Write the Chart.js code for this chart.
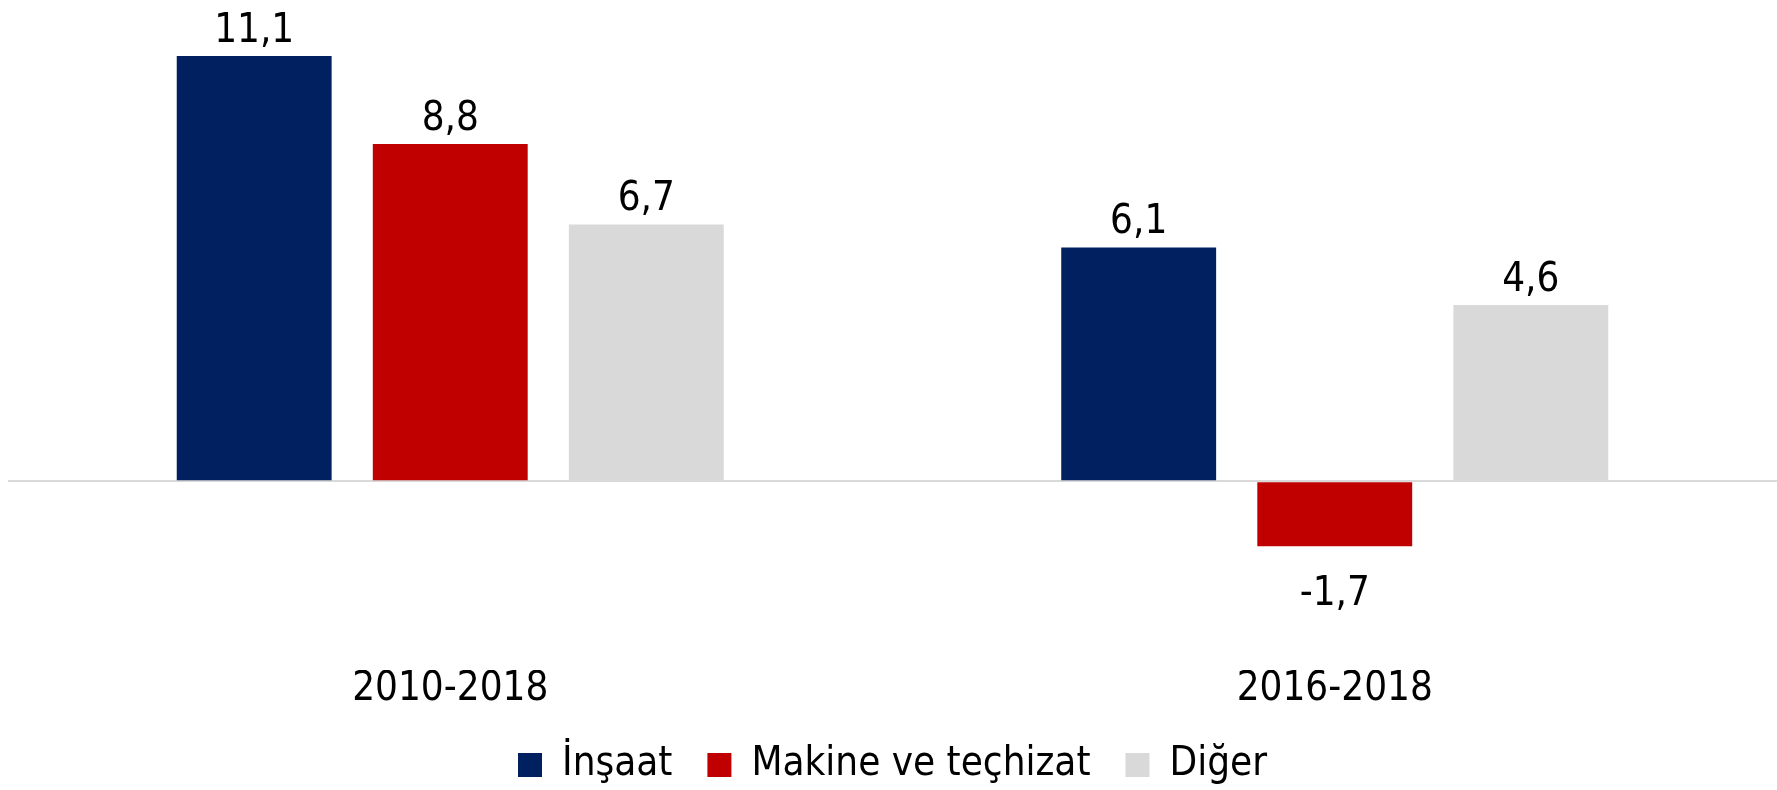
<!DOCTYPE html>
<html>
<head>
<meta charset="utf-8">
<title>Yatırım büyümesi</title>
<script src="https://cdn.jsdelivr.net/npm/chart.js@4/dist/chart.umd.min.js"></script>
<style>
	html, body { margin: 0; padding: 0; background: #fff; }
	#wrap { width: 1777px; height: 790px; }
</style>
</head>
<body>
<div id="wrap"><canvas id="growthChart" width="1777" height="790"></canvas></div>
<script>
// Categories (periods)
var periods = ['2010-2018', '2016-2018'];
// Series names
var seriesNames = ['İnşaat', 'Makine ve teçhizat', 'Diğer'];
// Series values, one value per period
var insaatValues = [11.1, 6.1];
var makineValues = [8.8, -1.7];
var digerValues = [6.7, 4.6];
// Colours
var seriesColors = ['#002060', '#C00000', '#D9D9D9'];

var FONT_FAMILY = "'DejaVu Sans Condensed', 'DejaVu Sans', sans-serif";
Chart.defaults.font.family = FONT_FAMILY;
Chart.defaults.font.size = 40;
Chart.defaults.color = '#000000';

/**
 * Value labels above (or below, for negative values) each bar, comma as decimal sign
 */
var barValueLabels = {
	id: 'barValueLabels',
	afterDatasetsDraw: function (chart) {
		var ctx = chart.ctx;
		ctx.save();
		ctx.font = '40px ' + FONT_FAMILY;
		ctx.fillStyle = '#000000';
		ctx.textAlign = 'center';
		ctx.textBaseline = 'alphabetic';
		chart.data.datasets.forEach(function (ds, i) {
			var meta = chart.getDatasetMeta(i);
			meta.data.forEach(function (bar, j) {
				var v = ds.data[j];
				var txt = v.toFixed(1).replace('.', ',');
				if (v >= 0) {
					ctx.fillText(txt, bar.x, bar.y - 14);
				} else {
					ctx.fillText(txt, bar.x, bar.y + 59);
				}
			});
		});
		ctx.restore();
	}
};

var chartData = {
	labels: periods,
	datasets: [
		{ label: seriesNames[0], data: insaatValues, backgroundColor: seriesColors[0] },
		{ label: seriesNames[1], data: makineValues, backgroundColor: seriesColors[1] },
		{ label: seriesNames[2], data: digerValues, backgroundColor: seriesColors[2] }
	]
};

var growthChart = new Chart(document.getElementById('growthChart'), {
	type: 'bar',
	data: chartData,
	plugins: [barValueLabels],
	options: {
		responsive: false,
		animation: false,
		devicePixelRatio: 1,
		categoryPercentage: 0.665,
		barPercentage: 0.79,
		layout: { padding: { left: 8, right: 0, top: 0, bottom: -5 } },
		plugins: {
			tooltip: { enabled: false },
			legend: {
				position: 'bottom',
				labels: {
					boxWidth: 24,
					boxHeight: 24,
					padding: 35,
					font: { size: 40 }
				}
			}
		},
		scales: {
			x: {
				grid: { display: false, drawTicks: false },
				border: { display: false },
				ticks: { padding: 0, font: { size: 40, lineHeight: 1.0 } }
			},
			y: {
				min: -4.93,
				max: 12.56,
				ticks: { display: false, stepSize: 1 },
				border: { display: false },
				grid: {
					drawTicks: false,
					lineWidth: 2,
					color: function (c) {
						return (c.tick && c.tick.value === 0) ? '#D9D9D9' : 'rgba(0,0,0,0)';
					}
				}
			}
		}
	}
});
</script>
</body>
</html>
